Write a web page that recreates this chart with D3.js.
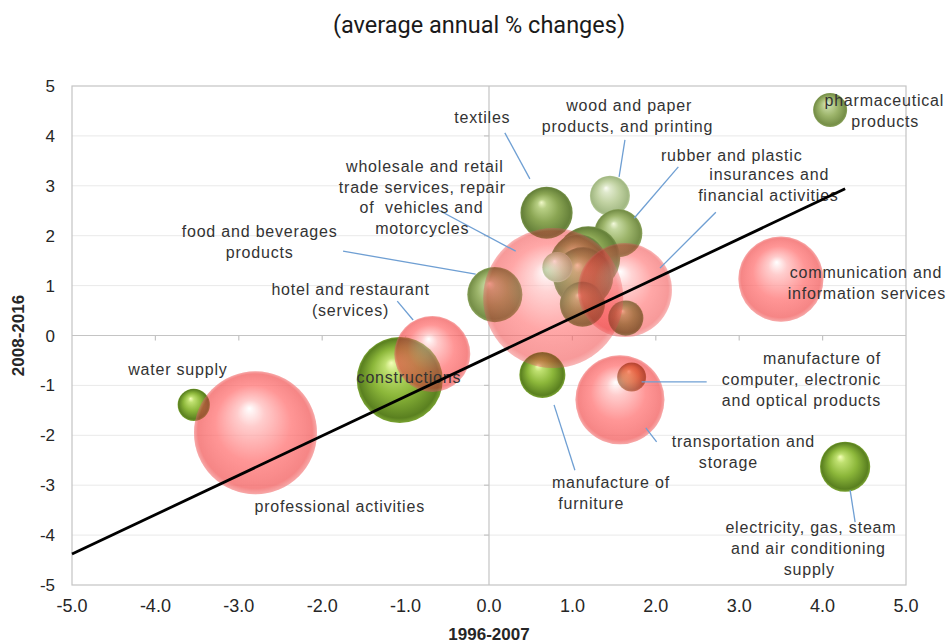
<!DOCTYPE html>
<html>
<head>
<meta charset="utf-8">
<script src="https://cdn.jsdelivr.net/npm/d3@7/dist/d3.min.js"></script>
<style>
  html, body { margin: 0; padding: 0; background: #ffffff; }
  svg { display: block; }
</style>
</head>
<body>
<svg id="chart" width="948" height="643"></svg>
<script>
// ---------------- DATA ----------------
const sectors = [
  "textiles", "wood and paper products, and printing", "rubber and plastic",
  "pharmaceutical products", "food and beverages products",
  "other manufacturing 1", "other manufacturing 2", "other manufacturing 3",
  "other manufacturing 4", "other manufacturing 5", "other manufacturing 6",
  "manufacture of furniture", "manufacture of computer, electronic and optical products",
  "electricity, gas, steam and air conditioning supply", "water supply", "constructions",
  "hotel and restaurant (services)", "professional activities",
  "wholesale and retail trade services, repair of vehicles and motorcycles",
  "insurances and financial activities", "communication and information services",
  "transportation and storage"
];
// average annual % change 1996-2007 (x)
const growth9607 = [0.69, 1.45, 1.55, 4.09, 0.07, 1.19, 1.07, 1.13, 1.12, 1.64, 0.82,
                    0.64, 1.71, 4.27, -3.54, -1.07, -0.68, -2.80, 0.77, 1.63, 3.50, 1.57];
// average annual % change 2008-2016 (y)
const growth0816 = [2.46, 2.80, 2.05, 4.52, 0.82, 1.55, 1.47, 1.17, 0.63, 0.35, 1.37,
                    -0.79, -0.83, -2.63, -1.39, -0.89, -0.37, -1.95, 0.75, 0.91, 1.13, -1.29];
// bubble size (weight)
const weight = [0.68, 0.40, 0.58, 0.29, 0.76, 1.02, 0.78, 0.90, 0.51, 0.31, 0.23,
                0.53, 0.21, 0.63, 0.26, 1.85, 1.44, 3.78, 4.90, 2.21, 1.81, 1.98];
// sector group
const group = ["industry","industry","industry","industry","industry","industry","industry","industry",
               "industry","industry","industry","industry","industry","industry","industry","industry",
               "services","services","services","services","services","services"];
// regression line end points
const trendX = [-5.0, 4.27];
const trendY = [-4.38, 2.94];
// ticks
const xTickValues = [-5, -4, -3, -2, -1, 0, 1, 2, 3, 4, 5];
const xTickLabels = ["-5.0", "-4.0", "-3.0", "-2.0", "-1.0", "0.0", "1.0", "2.0", "3.0", "4.0", "5.0"];
const yTickValues = [5, 4, 3, 2, 1, 0, -1, -2, -3, -4, -5];
const yTickLabels = ["5", "4", "3", "2", "1", "0", "-1", "-2", "-3", "-4", "-5"];
const titleText = "(average annual % changes)";
const xTitle = "1996-2007";
const yTitle = "2008-2016";

// ---------------- LAYOUT / STYLE ----------------
// label layout in data units: lines [text, x], anchor, first-baseline y, leader [x1,y1,x2,y2]
const labelLayout = [
  { lines: [["textiles", -0.08]], y: 4.26, anchor: "middle", leader: [0.19, 4.06, 0.49, 3.14] },
  { lines: [["wood and paper", 1.68], ["products, and printing", 1.66]], y: 4.50, anchor: "middle", leader: [1.63, 3.92, 1.56, 3.18] },
  { lines: [["rubber and plastic", 2.91]], y: 3.50, anchor: "middle", leader: [2.27, 3.38, 1.74, 2.35] },
  { lines: [["insurances and", 3.36], ["financial activities", 3.35]], y: 3.12, anchor: "middle", leader: [2.72, 2.47, 2.05, 1.35] },
  { lines: [["wholesale and retail", -0.77], ["trade services, repair", -0.80], ["of  vehicles and", -0.81], ["motorcycles", -0.80]], y: 3.28, anchor: "middle", leader: [-0.68, 2.58, 0.32, 1.69] },
  { lines: [["food and beverages", -2.75], ["products", -2.75]], y: 1.97, anchor: "middle", leader: [-1.75, 1.69, -0.16, 1.23] },
  { lines: [["hotel and restaurant", -1.66], ["(services)", -1.66]], y: 0.81, anchor: "middle", leader: [-1.10, 0.69, -0.91, 0.31] },
  { lines: [["water supply", -3.73]], y: -0.79, anchor: "middle" },
  { lines: [["constructions", -0.96]], y: -0.95, anchor: "middle" },
  { lines: [["professional activities", -1.79]], y: -3.54, anchor: "middle" },
  { lines: [["communication and", 4.52], ["information services", 4.53]], y: 1.15, anchor: "middle" },
  { lines: [["pharmaceutical", 4.74], ["products", 4.75]], y: 4.60, anchor: "middle" },
  { lines: [["manufacture of", 4.70], ["computer, electronic", 4.70], ["and optical products", 4.70]], y: -0.57, anchor: "end", leader: [1.83, -0.93, 2.61, -0.93] },
  { lines: [["transportation and", 3.05], ["storage", 2.87]], y: -2.23, anchor: "middle", leader: [1.88, -1.85, 2.01, -2.13] },
  { lines: [["manufacture of", 0.755], ["furniture", 0.83]], y: -3.06, anchor: "start", leader: [0.78, -1.39, 1.03, -2.70] },
  { lines: [["electricity, gas, steam", 3.86], ["and air conditioning", 3.83], ["supply", 3.84]], y: -3.96, anchor: "middle", leader: [4.33, -3.10, 4.39, -3.74] }
];

// tone by sector (style)
const toneBySector = {
  "textiles": "olive", "wood and paper products, and printing": "pale", "rubber and plastic": "sage",
  "pharmaceutical products": "sage", "food and beverages products": "sage",
  "other manufacturing 6": "pale",
  "manufacture of computer, electronic and optical products": "amber",
  "manufacture of furniture": "lime", "electricity, gas, steam and air conditioning supply": "lime",
  "water supply": "lime", "constructions": "lime"
};
const paleRed = {
  "wholesale and retail trade services, repair of vehicles and motorcycles": true,
  "insurances and financial activities": true
};
const tones = {
  olive: ["#f0f8c8", "#b8cf84", "#8aa553", "#66813a", "#77934a"],
  sage:  ["#f3f9dc", "#c5d8a0", "#9cb46a", "#768f48", "#8aa35c"],
  pale:  ["#fbfdf4", "#dfe9cc", "#c1d2a2", "#a2b883", "#b4c896"],
  lime:  ["#f4ffb8", "#bfe070", "#8cb73a", "#5a8020", "#7aa432"],
  amber: ["#f8d090", "#e0a050", "#c87a30", "#8a4a18", "#a06028"],
  red:   ["#ffffff", "#ffbaba", "#ff7070", "#f25a5a", "#f48a8a"]
};

const W = 948, H = 643;
const plot = { left: 72, right: 906, top: 86, bottom: 585 };

const svg = d3.select("#chart");
const x = d3.scaleLinear().domain([-5, 5]).range([plot.left, plot.right]);
const y = d3.scaleLinear().domain([-5, 5]).range([plot.bottom, plot.top]);
const r = d3.scaleSqrt().domain([0, 10]).range([0, 100]);

// gradients
const defs = svg.append("defs");
Object.entries(tones).forEach(([k, c]) => {
  const g = defs.append("radialGradient").attr("id", "g-" + k)
    .attr("cx", "50%").attr("cy", "50%").attr("r", "50%")
    .attr("fx", k === "red" ? "45%" : "40%").attr("fy", "30%");
  const stops = k === "red" ? [0, 0.22, 0.62, 0.93, 1] : [0, 0.18, 0.55, 0.92, 1];
  stops.forEach((o, i) => g.append("stop").attr("offset", o).attr("stop-color", c[i]));
});

// title
svg.append("text").attr("x", 479).attr("y", 33)
  .attr("text-anchor", "middle")
  .style("font-family", "Roboto, 'Noto Sans', sans-serif")
  .style("font-size", "23.5px").style("fill", "#1a1a1a")
  .text(titleText);

// gridlines
svg.append("g").selectAll("line").data(yTickValues.filter(v => v !== 0 && v !== 5 && v !== -5)).join("line")
  .attr("x1", plot.left).attr("x2", plot.right)
  .attr("y1", d => y(d)).attr("y2", d => y(d))
  .attr("stroke", "#e9e9e9").attr("stroke-width", 1);

// frame
svg.append("rect").attr("x", plot.left).attr("y", plot.top)
  .attr("width", plot.right - plot.left).attr("height", plot.bottom - plot.top)
  .attr("fill", "none").attr("stroke", "#c4c4c4").attr("stroke-width", 1.2);

// zero axes
const axesG = svg.append("g").attr("stroke", "#c4c4c4").attr("stroke-width", 1.2);
axesG.append("line").attr("x1", plot.left).attr("x2", plot.right).attr("y1", y(0)).attr("y2", y(0));
axesG.append("line").attr("x1", x(0)).attr("x2", x(0)).attr("y1", plot.top).attr("y2", plot.bottom);
axesG.selectAll(".xt").data(xTickValues.filter(v => v > -5 && v < 5 && v !== 0)).join("line")
  .attr("x1", d => x(d)).attr("x2", d => x(d)).attr("y1", y(0)).attr("y2", y(0) + 5);
axesG.selectAll(".yt").data(yTickValues.filter(v => v > -5 && v < 5 && v !== 0)).join("line")
  .attr("x1", x(0) - 5).attr("x2", x(0)).attr("y1", d => y(d)).attr("y2", d => y(d));

// tick labels
svg.append("g").selectAll("text").data(xTickValues).join("text")
  .attr("x", d => x(d)).attr("y", 612)
  .attr("text-anchor", "middle")
  .style("font-family", "'Liberation Sans Narrow', 'Liberation Sans', Arial, sans-serif")
  .style("font-size", "18px").style("fill", "#262626")
  .text((d, i) => xTickLabels[i]);
svg.append("g").selectAll("text").data(yTickValues).join("text")
  .attr("x", 55).attr("y", d => y(d) + 6)
  .attr("text-anchor", "end")
  .style("font-family", "'Liberation Sans', Arial, sans-serif")
  .style("font-size", "17px").style("fill", "#262626")
  .text((d, i) => yTickLabels[i]);

// axis titles
svg.append("text").attr("x", x(0)).attr("y", 640).attr("text-anchor", "middle")
  .style("font-family", "'Liberation Sans Narrow', 'Liberation Sans', Arial, sans-serif")
  .style("font-weight", "bold").style("font-size", "17px").style("fill", "#262626")
  .text(xTitle);
svg.append("text").attr("transform", `translate(24, ${y(0)}) rotate(-90)`).attr("text-anchor", "middle")
  .style("font-family", "'Liberation Sans Narrow', 'Liberation Sans', Arial, sans-serif")
  .style("font-weight", "bold").style("font-size", "17px").style("fill", "#262626")
  .text(yTitle);

// bubbles
const rows = sectors.map((s, i) => ({
  name: s, gx: growth9607[i], gy: growth0816[i], w: weight[i], group: group[i]
}));
const bubbles = svg.append("g").style("isolation", "isolate");
bubbles.selectAll("circle.ind").data(rows.filter(d => d.group === "industry")).join("circle")
  .attr("class", "ind")
  .attr("cx", d => x(d.gx)).attr("cy", d => y(d.gy)).attr("r", d => r(d.w))
  .attr("fill", d => "url(#g-" + (toneBySector[d.name] || "olive") + ")");
const srv = bubbles.selectAll("g.srv").data(rows.filter(d => d.group === "services")).join("g")
  .attr("class", "srv");
// shading layer (darkens what lies beneath)
srv.append("circle")
  .attr("cx", d => x(d.gx)).attr("cy", d => y(d.gy)).attr("r", d => r(d.w))
  .attr("fill", "url(#g-red)")
  .style("mix-blend-mode", "multiply")
  .attr("opacity", d => paleRed[d.name] ? 0.45 : 0.55);
// tint layer (adds the translucent red)
srv.append("circle")
  .attr("cx", d => x(d.gx)).attr("cy", d => y(d.gy)).attr("r", d => r(d.w))
  .attr("fill", "url(#g-red)")
  .attr("opacity", d => paleRed[d.name] ? 0.3 : 0.42);

// leader lines
svg.append("g").selectAll("line").data(labelLayout.filter(d => d.leader)).join("line")
  .attr("x1", d => x(d.leader[0])).attr("y1", d => y(d.leader[1]))
  .attr("x2", d => x(d.leader[2])).attr("y2", d => y(d.leader[3]))
  .attr("stroke", "#6f9fd3").attr("stroke-width", 1.3);

// labels
const lh = 20.8;
const lab = svg.append("g")
  .style("font-family", "'Liberation Sans', Arial, sans-serif")
  .style("font-size", "16px").style("letter-spacing", "0.8px").style("fill", "#333333");
labelLayout.forEach(L => {
  const t = lab.append("text").attr("text-anchor", L.anchor).attr("xml:space", "preserve")
    .style("white-space", "pre");
  L.lines.forEach((ln, i) => {
    t.append("tspan").attr("x", x(ln[1])).attr("y", y(L.y) + i * lh).text(ln[0]);
  });
});

// trend line
svg.append("line")
  .attr("x1", x(trendX[0])).attr("y1", y(trendY[0]))
  .attr("x2", x(trendX[1])).attr("y2", y(trendY[1]))
  .attr("stroke", "#000000").attr("stroke-width", 2.8);
</script>
</body>
</html>
